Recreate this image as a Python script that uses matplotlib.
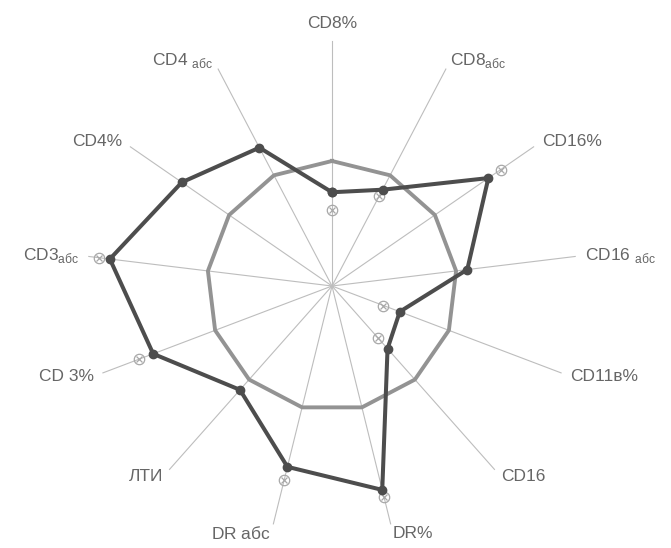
import numpy as np
import matplotlib

matplotlib.use("Agg")
import matplotlib.pyplot as plt

# axes, clockwise from the top
LABELS = ["CD8%", "CD8$_{\\mathregular{абс}}$", "CD16%", "CD16 $_{\\mathregular{абс}}$",
          "CD11в%", "CD16", "DR%", "DR $\\mathregular{абс}$", "ЛТИ", "CD 3%",
          "CD3$_{\\mathregular{абс}}$", "CD4%", "CD4 $_{\\mathregular{абс}}$"]
NORM = [100] * 13                                   # norm = 100 %
PATIENT = [75, 87, 152, 109, 58, 67, 168, 149, 111, 153, 179, 146, 125]
CROSS = [61, 81, 164, np.nan, 44, 56, 174, 160, np.nan, 165, 188, np.nan, np.nan]

INK, SPOKE, RING, LINE, CROSSC = "#666666", "#bdbdbd", "#939393", "#4d4d4d", "#a8a8a8"
plt.rcParams.update({"font.family": ["Liberation Sans", "DejaVu Sans"],
                     "mathtext.fontset": "custom", "mathtext.rm": "Liberation Sans"})

n = len(LABELS)
theta = np.arange(n) * 2 * np.pi / n
closed = lambda a: np.append(a, a[0])

fig = plt.figure(figsize=(6.71, 5.48), dpi=100)
ax = fig.add_axes([82 / 671, 12 / 548, 500 / 671, 500 / 548], projection="polar")
ax.set_theta_zero_location("N")
ax.set_theta_direction(-1)
ax.set_ylim(0, 200)
ax.axis("off")

# spokes
R_END = 196
for t in theta:
    ax.plot([t, t], [0, R_END], color=SPOKE, lw=0.8, zorder=1)

# norm ring
ax.plot(closed(theta), closed(np.array(NORM, float)), color=RING, lw=2.8, zorder=2)

# patient profile
ax.plot(closed(theta), closed(np.array(PATIENT, float)), color=LINE, lw=2.9,
        marker="o", ms=6, zorder=4)

# reference marks: circle with a cross
ax.plot(theta, CROSS, ls="none", marker="o", ms=7.5, mfc="none", mec=CROSSC, mew=0.9, zorder=3)
ax.plot(theta, CROSS, ls="none", marker="x", ms=4.5, color=CROSSC, mew=0.9, zorder=3)

# axis labels
for t, lab in zip(theta, LABELS):
    s, c = np.sin(t), np.cos(t)
    ha = "left" if s > 0.2 else ("right" if s < -0.2 else "center")
    va = "bottom" if c > 0.95 else "center"
    ax.annotate(lab, xy=(t, R_END), xytext=(7 * s, 7 * c), textcoords="offset points",
                ha=ha, va=va, fontsize=12.5, color=INK, annotation_clip=False)

fig.savefig("out.png", dpi=100, facecolor="white")
